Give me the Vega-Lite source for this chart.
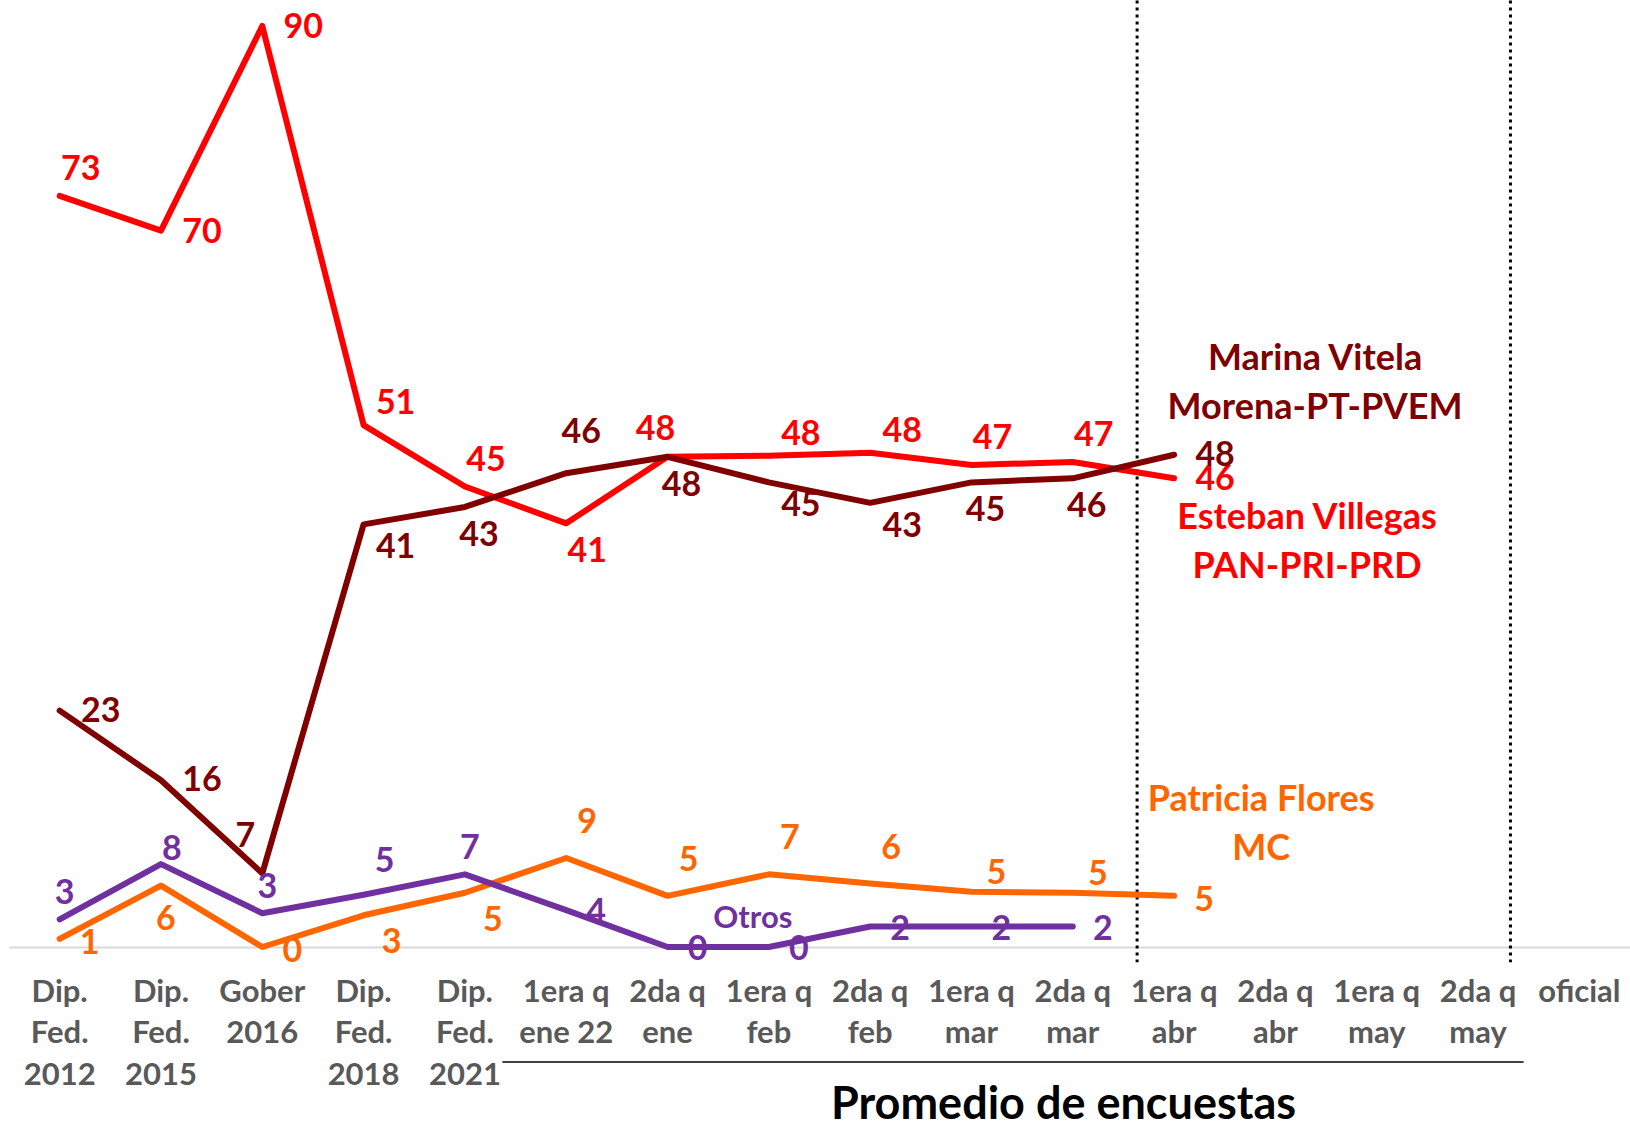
{
  "$schema": "https://vega.github.io/schema/vega-lite/v6.json",
  "width": 1621,
  "height": 921,
  "autosize": "none",
  "padding": {"left": 9, "top": 26, "right": 0, "bottom": 174},
  "background": "white",
  "config": {
    "view": {"stroke": null},
    "text": {"font": "Lato", "fontWeight": "bold", "fontSize": 34, "baseline": "middle", "align": "center"}
  },
  "data": {
    "values": [
      {"cat": "Dip.\nFed.\n2012", "serie": "Patricia Flores", "v": 0.8},
      {"cat": "Dip.\nFed.\n2015", "serie": "Patricia Flores", "v": 6.0},
      {"cat": "Gober\n2016", "serie": "Patricia Flores", "v": 0.0},
      {"cat": "Dip.\nFed.\n2018", "serie": "Patricia Flores", "v": 3.1},
      {"cat": "Dip.\nFed.\n2021", "serie": "Patricia Flores", "v": 5.3},
      {"cat": "1era q\nene 22", "serie": "Patricia Flores", "v": 8.7},
      {"cat": "2da q\nene", "serie": "Patricia Flores", "v": 5.0},
      {"cat": "1era q\nfeb", "serie": "Patricia Flores", "v": 7.1},
      {"cat": "2da q\nfeb", "serie": "Patricia Flores", "v": 6.2},
      {"cat": "1era q\nmar", "serie": "Patricia Flores", "v": 5.4},
      {"cat": "2da q\nmar", "serie": "Patricia Flores", "v": 5.3},
      {"cat": "1era q\nabr", "serie": "Patricia Flores", "v": 5.0},
      {"cat": "Dip.\nFed.\n2012", "serie": "Otros", "v": 2.7},
      {"cat": "Dip.\nFed.\n2015", "serie": "Otros", "v": 8.1},
      {"cat": "Gober\n2016", "serie": "Otros", "v": 3.3},
      {"cat": "Dip.\nFed.\n2018", "serie": "Otros", "v": 5.1},
      {"cat": "Dip.\nFed.\n2021", "serie": "Otros", "v": 7.1},
      {"cat": "1era q\nene 22", "serie": "Otros", "v": 3.6},
      {"cat": "2da q\nene", "serie": "Otros", "v": 0.0},
      {"cat": "1era q\nfeb", "serie": "Otros", "v": 0.0},
      {"cat": "2da q\nfeb", "serie": "Otros", "v": 2.0},
      {"cat": "1era q\nmar", "serie": "Otros", "v": 2.0},
      {"cat": "2da q\nmar", "serie": "Otros", "v": 2.0},
      {"cat": "Dip.\nFed.\n2012", "serie": "Esteban Villegas", "v": 73.4},
      {"cat": "Dip.\nFed.\n2015", "serie": "Esteban Villegas", "v": 70.0},
      {"cat": "Gober\n2016", "serie": "Esteban Villegas", "v": 90.0},
      {"cat": "Dip.\nFed.\n2018", "serie": "Esteban Villegas", "v": 51.0},
      {"cat": "Dip.\nFed.\n2021", "serie": "Esteban Villegas", "v": 45.0},
      {"cat": "1era q\nene 22", "serie": "Esteban Villegas", "v": 41.4},
      {"cat": "2da q\nene", "serie": "Esteban Villegas", "v": 47.9},
      {"cat": "1era q\nfeb", "serie": "Esteban Villegas", "v": 48.0},
      {"cat": "2da q\nfeb", "serie": "Esteban Villegas", "v": 48.3},
      {"cat": "1era q\nmar", "serie": "Esteban Villegas", "v": 47.1},
      {"cat": "2da q\nmar", "serie": "Esteban Villegas", "v": 47.4},
      {"cat": "1era q\nabr", "serie": "Esteban Villegas", "v": 45.8},
      {"cat": "Dip.\nFed.\n2012", "serie": "Marina Vitela", "v": 23.1},
      {"cat": "Dip.\nFed.\n2015", "serie": "Marina Vitela", "v": 16.3},
      {"cat": "Gober\n2016", "serie": "Marina Vitela", "v": 7.2},
      {"cat": "Dip.\nFed.\n2018", "serie": "Marina Vitela", "v": 41.3},
      {"cat": "Dip.\nFed.\n2021", "serie": "Marina Vitela", "v": 43.0},
      {"cat": "1era q\nene 22", "serie": "Marina Vitela", "v": 46.3},
      {"cat": "2da q\nene", "serie": "Marina Vitela", "v": 47.9},
      {"cat": "1era q\nfeb", "serie": "Marina Vitela", "v": 45.4},
      {"cat": "2da q\nfeb", "serie": "Marina Vitela", "v": 43.4},
      {"cat": "1era q\nmar", "serie": "Marina Vitela", "v": 45.4},
      {"cat": "2da q\nmar", "serie": "Marina Vitela", "v": 45.8},
      {"cat": "1era q\nabr", "serie": "Marina Vitela", "v": 48.1}
    ]
  },
  "encoding": {
    "x": {
      "field": "cat",
      "type": "nominal",
      "sort": null,
      "bandPosition": 0.5,
      "scale": {
        "type": "band",
        "paddingInner": 0,
        "paddingOuter": 0,
        "domain": ["Dip.\nFed.\n2012", "Dip.\nFed.\n2015", "Gober\n2016", "Dip.\nFed.\n2018", "Dip.\nFed.\n2021", "1era q\nene 22", "2da q\nene", "1era q\nfeb", "2da q\nfeb", "1era q\nmar", "2da q\nmar", "1era q\nabr", "2da q\nabr", "1era q\nmay", "2da q\nmay", "oficial"]
      },
      "axis": {
        "domainColor": "#d9d9d9",
        "domainWidth": 2,
        "ticks": false,
        "grid": false,
        "labelAngle": 0,
        "labelFont": "Lato",
        "labelFontWeight": "bold",
        "labelFontSize": 31,
        "labelColor": "#595959",
        "labelPadding": 30,
        "labelLineHeight": 41.6,
        "labelOverlap": false,
        "labelExpr": "split(datum.label, '\\n')",
        "title": "Promedio de encuestas",
        "titleFont": "Lato",
        "titleFontWeight": "bold",
        "titleFontSize": 45,
        "titleColor": "#000000",
        "titleX": 1054,
        "titleY": 171,
        "titleAlign": "center",
        "titleBaseline": "alphabetic"
      }
    },
    "y": {
      "field": "v",
      "type": "quantitative",
      "scale": {"domain": [0, 90], "nice": false, "zero": true},
      "axis": null
    }
  },
  "layer": [
    {
      "transform": [{"filter": {"and": [{"field": "serie", "equal": "Marina Vitela"}, {"field": "cat", "equal": "1era q\nabr"}]}}],
      "mark": {"type": "rule", "color": "#000000", "strokeWidth": 3, "strokeDash": [3, 4]},
      "encoding": {
        "x": {"field": "cat", "type": "nominal", "bandPosition": 0.135},
        "y": {"datum": 92.5},
        "y2": {"datum": -1.5}
      }
    },
    {
      "transform": [{"filter": {"and": [{"field": "serie", "equal": "Marina Vitela"}, {"field": "cat", "equal": "1era q\nabr"}]}}],
      "mark": {"type": "rule", "color": "#000000", "strokeWidth": 3, "strokeDash": [3, 4]},
      "encoding": {
        "x": {"datum": "2da q\nmay", "type": "nominal", "bandPosition": 0.82},
        "y": {"datum": 92.5},
        "y2": {"datum": -1.5}
      }
    },
    {
      "transform": [{"filter": {"and": [{"field": "serie", "equal": "Marina Vitela"}, {"field": "cat", "equal": "1era q\nene 22"}]}}],
      "mark": {"type": "rule", "color": "#404040", "strokeWidth": 2},
      "encoding": {
        "x": {"field": "cat", "type": "nominal", "bandPosition": -0.13},
        "x2": {"datum": "2da q\nmay", "bandPosition": 0.95},
        "y": {"datum": -11.24}
      }
    },
    {
      "mark": {"type": "line", "strokeWidth": 6, "strokeCap": "round", "strokeJoin": "round"},
      "encoding": {
        "color": {
          "field": "serie",
          "type": "nominal",
          "scale": {"domain": ["Patricia Flores", "Otros", "Esteban Villegas", "Marina Vitela"], "range": ["#FF6600", "#7030A0", "#FF0000", "#800000"]},
          "legend": null
        }
      }
    },
    {
      "transform": [{"filter": {"and": [{"field": "serie", "equal": "Esteban Villegas"}, {"field": "cat", "oneOf": ["Dip.\nFed.\n2015", "Gober\n2016", "1era q\nabr"]}]}}],
      "mark": {"type": "text", "color": "#FF0000", "dx": 41, "dy": 2},
      "encoding": {"text": {"field": "v", "format": ".0f"}}
    },
    {
      "transform": [{"filter": {"and": [{"field": "serie", "equal": "Esteban Villegas"}, {"field": "cat", "oneOf": ["Dip.\nFed.\n2012", "Dip.\nFed.\n2021", "1era q\nmar", "2da q\nmar"]}]}}],
      "mark": {"type": "text", "color": "#FF0000", "dx": 21, "dy": -26},
      "encoding": {"text": {"field": "v", "format": ".0f"}}
    },
    {
      "transform": [{"filter": {"and": [{"field": "serie", "equal": "Esteban Villegas"}, {"field": "cat", "oneOf": ["Dip.\nFed.\n2018", "1era q\nfeb", "2da q\nfeb"]}]}}],
      "mark": {"type": "text", "color": "#FF0000", "dx": 32, "dy": -21},
      "encoding": {"text": {"field": "v", "format": ".0f"}}
    },
    {
      "transform": [{"filter": {"and": [{"field": "serie", "equal": "Esteban Villegas"}, {"field": "cat", "oneOf": ["1era q\nene 22"]}]}}],
      "mark": {"type": "text", "color": "#FF0000", "dx": 21, "dy": 29},
      "encoding": {"text": {"field": "v", "format": ".0f"}}
    },
    {
      "transform": [{"filter": {"and": [{"field": "serie", "equal": "Esteban Villegas"}, {"field": "cat", "oneOf": ["2da q\nene"]}]}}],
      "mark": {"type": "text", "color": "#FF0000", "dx": -12, "dy": -27},
      "encoding": {"text": {"field": "v", "format": ".0f"}}
    },
    {
      "transform": [{"filter": {"and": [{"field": "serie", "equal": "Marina Vitela"}, {"field": "cat", "oneOf": ["Dip.\nFed.\n2012", "Dip.\nFed.\n2015", "1era q\nabr"]}]}}],
      "mark": {"type": "text", "color": "#800000", "dx": 41, "dy": 1},
      "encoding": {"text": {"field": "v", "format": ".0f"}}
    },
    {
      "transform": [{"filter": {"and": [{"field": "serie", "equal": "Marina Vitela"}, {"field": "cat", "oneOf": ["Gober\n2016"]}]}}],
      "mark": {"type": "text", "color": "#800000", "dx": -17, "dy": -36},
      "encoding": {"text": {"field": "v", "format": ".0f"}}
    },
    {
      "transform": [{"filter": {"and": [{"field": "serie", "equal": "Marina Vitela"}, {"field": "cat", "oneOf": ["Dip.\nFed.\n2018", "1era q\nfeb", "2da q\nfeb"]}]}}],
      "mark": {"type": "text", "color": "#800000", "dx": 32, "dy": 24},
      "encoding": {"text": {"field": "v", "format": ".0f"}}
    },
    {
      "transform": [{"filter": {"and": [{"field": "serie", "equal": "Marina Vitela"}, {"field": "cat", "oneOf": ["Dip.\nFed.\n2021", "2da q\nene", "1era q\nmar", "2da q\nmar"]}]}}],
      "mark": {"type": "text", "color": "#800000", "dx": 14, "dy": 29},
      "encoding": {"text": {"field": "v", "format": ".0f"}}
    },
    {
      "transform": [{"filter": {"and": [{"field": "serie", "equal": "Marina Vitela"}, {"field": "cat", "oneOf": ["1era q\nene 22"]}]}}],
      "mark": {"type": "text", "color": "#800000", "dx": 15, "dy": -40},
      "encoding": {"text": {"field": "v", "format": ".0f"}}
    },
    {
      "transform": [{"filter": {"and": [{"field": "serie", "equal": "Patricia Flores"}, {"field": "cat", "oneOf": ["Dip.\nFed.\n2012", "Gober\n2016", "1era q\nabr"]}]}}],
      "mark": {"type": "text", "color": "#FF6600", "dx": 30, "dy": 5},
      "encoding": {"text": {"field": "v", "format": ".0f"}}
    },
    {
      "transform": [{"filter": {"and": [{"field": "serie", "equal": "Patricia Flores"}, {"field": "cat", "oneOf": ["Dip.\nFed.\n2015"]}]}}],
      "mark": {"type": "text", "color": "#FF6600", "dx": 5, "dy": 34},
      "encoding": {"text": {"field": "v", "format": ".0f"}}
    },
    {
      "transform": [{"filter": {"and": [{"field": "serie", "equal": "Patricia Flores"}, {"field": "cat", "oneOf": ["Dip.\nFed.\n2018", "Dip.\nFed.\n2021"]}]}}],
      "mark": {"type": "text", "color": "#FF6600", "dx": 28, "dy": 28},
      "encoding": {"text": {"field": "v", "format": ".0f"}}
    },
    {
      "transform": [{"filter": {"and": [{"field": "serie", "equal": "Patricia Flores"}, {"field": "cat", "oneOf": ["1era q\nene 22", "2da q\nene", "1era q\nfeb", "2da q\nfeb"]}]}}],
      "mark": {"type": "text", "color": "#FF6600", "dx": 21, "dy": -35},
      "encoding": {"text": {"field": "v", "format": ".0f"}}
    },
    {
      "transform": [{"filter": {"and": [{"field": "serie", "equal": "Patricia Flores"}, {"field": "cat", "oneOf": ["1era q\nmar", "2da q\nmar"]}]}}],
      "mark": {"type": "text", "color": "#FF6600", "dx": 25, "dy": -18},
      "encoding": {"text": {"field": "v", "format": ".0f"}}
    },
    {
      "transform": [{"filter": {"and": [{"field": "serie", "equal": "Otros"}, {"field": "cat", "oneOf": ["Dip.\nFed.\n2012", "Gober\n2016", "Dip.\nFed.\n2021"]}]}}],
      "mark": {"type": "text", "color": "#7030A0", "dx": 5, "dy": -25},
      "encoding": {"text": {"field": "v", "format": ".0f"}}
    },
    {
      "transform": [{"filter": {"and": [{"field": "serie", "equal": "Otros"}, {"field": "cat", "oneOf": ["Dip.\nFed.\n2015"]}]}}],
      "mark": {"type": "text", "color": "#7030A0", "dx": 11, "dy": -14},
      "encoding": {"text": {"field": "v", "format": ".0f"}}
    },
    {
      "transform": [{"filter": {"and": [{"field": "serie", "equal": "Otros"}, {"field": "cat", "oneOf": ["Dip.\nFed.\n2018"]}]}}],
      "mark": {"type": "text", "color": "#7030A0", "dx": 21, "dy": -33},
      "encoding": {"text": {"field": "v", "format": ".0f"}}
    },
    {
      "transform": [{"filter": {"and": [{"field": "serie", "equal": "Otros"}, {"field": "cat", "oneOf": ["1era q\nene 22", "2da q\nene", "1era q\nfeb", "2da q\nfeb", "1era q\nmar", "2da q\nmar"]}]}}],
      "mark": {"type": "text", "color": "#7030A0", "dx": 30, "dy": 3},
      "encoding": {"text": {"field": "v", "format": ".0f"}}
    },
    {
      "transform": [{"filter": {"and": [{"field": "serie", "equal": "Marina Vitela"}, {"field": "cat", "equal": "1era q\nabr"}]}}],
      "mark": {"type": "text", "color": "#800000", "dx": 141, "dy": -96, "fontSize": 36, "lineHeight": 49, "text": ["Marina Vitela", "Morena-PT-PVEM"]}
    },
    {
      "transform": [{"filter": {"and": [{"field": "serie", "equal": "Esteban Villegas"}, {"field": "cat", "equal": "1era q\nabr"}]}}],
      "mark": {"type": "text", "color": "#FF0000", "dx": 133, "dy": 40, "fontSize": 36, "lineHeight": 49, "text": ["Esteban Villegas", "PAN-PRI-PRD"]}
    },
    {
      "transform": [{"filter": {"and": [{"field": "serie", "equal": "Patricia Flores"}, {"field": "cat", "equal": "1era q\nabr"}]}}],
      "mark": {"type": "text", "color": "#FF6600", "dx": 87, "dy": -96, "fontSize": 36, "lineHeight": 49, "text": ["Patricia Flores", "MC"]}
    },
    {
      "transform": [{"filter": {"and": [{"field": "serie", "equal": "Otros"}, {"field": "cat", "equal": "1era q\nfeb"}]}}],
      "mark": {"type": "text", "color": "#7030A0", "dx": -16, "dy": -28, "fontSize": 31, "text": "Otros"}
    }
  ]
}
